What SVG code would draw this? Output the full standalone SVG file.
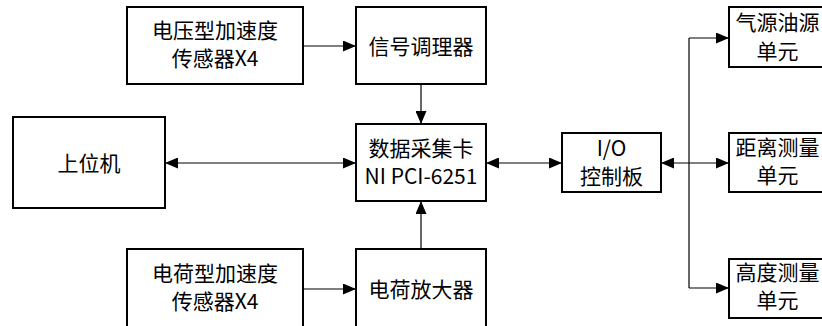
<svg xmlns="http://www.w3.org/2000/svg" width="822" height="326" viewBox="0 0 822 326">
<style>
.box{fill:#fff;stroke:#000;stroke-width:2}
.t{font-family:"Noto Sans CJK SC","Noto Sans",sans-serif;font-size:21px;fill:#000;text-anchor:middle}
.c{fill:none;stroke:#000;stroke-width:1.2}
</style>
<defs>
<marker id="ah" markerUnits="userSpaceOnUse" markerWidth="13" markerHeight="11" refX="13" refY="5.5" orient="auto-start-reverse">
<path d="M0,0 L13,5.5 L0,11 Z" fill="#000"/>
</marker>
</defs>
<rect width="822" height="326" fill="#fff"/>
<g id="connectors">
<path class="c" d="M303,46 H356" marker-end="url(#ah)"/>
<path class="c" d="M421,84 V124" marker-end="url(#ah)"/>
<path class="c" d="M165,163 H356" marker-start="url(#ah)" marker-end="url(#ah)"/>
<path class="c" d="M486,163 H562" marker-start="url(#ah)" marker-end="url(#ah)"/>
<path class="c" d="M661,163 H729" marker-start="url(#ah)" marker-end="url(#ah)"/>
<path class="c" d="M689,38 V288"/>
<path class="c" d="M689,38 H729" marker-end="url(#ah)"/>
<path class="c" d="M689,288 H729" marker-end="url(#ah)"/>
<path class="c" d="M303,289 H356" marker-end="url(#ah)"/>
<path class="c" d="M421,249 V201" marker-end="url(#ah)"/>
</g>
<g id="voltage-sensor">
<rect class="box" x="127" y="7" width="176" height="77"/>
<text class="t" x="215" y="38">电压型加速度</text>
<text class="t" x="215" y="66">传感器X4</text>
</g>
<g id="signal-conditioner">
<rect class="box" x="356" y="7" width="130" height="77"/>
<text class="t" x="421" y="54">信号调理器</text>
</g>
<g id="host">
<rect class="box" x="13" y="117" width="152" height="91"/>
<text class="t" x="89" y="171">上位机</text>
</g>
<g id="daq">
<rect class="box" x="356" y="124" width="130" height="77"/>
<text class="t" x="421" y="156">数据采集卡</text>
<text class="t" x="421" y="184">NI PCI-6251</text>
</g>
<g id="io-board">
<rect class="box" x="562" y="133" width="99" height="59"/>
<text class="t" x="611.5" y="156">I/O</text>
<text class="t" x="611.5" y="184">控制板</text>
</g>
<g id="air-oil">
<rect class="box" x="729" y="7" width="97" height="60"/>
<text class="t" x="777.5" y="30">气源油源</text>
<text class="t" x="777.5" y="59">单元</text>
</g>
<g id="distance">
<rect class="box" x="729" y="133" width="97" height="59"/>
<text class="t" x="777.5" y="155">距离测量</text>
<text class="t" x="777.5" y="183">单元</text>
</g>
<g id="height">
<rect class="box" x="729" y="259" width="97" height="59"/>
<text class="t" x="777.5" y="280">高度测量</text>
<text class="t" x="777.5" y="308">单元</text>
</g>
<g id="charge-sensor">
<rect class="box" x="127" y="249" width="176" height="80"/>
<text class="t" x="215" y="281">电荷型加速度</text>
<text class="t" x="215" y="309">传感器X4</text>
</g>
<g id="charge-amp">
<rect class="box" x="356" y="249" width="130" height="80"/>
<text class="t" x="421" y="297">电荷放大器</text>
</g>
</svg>
